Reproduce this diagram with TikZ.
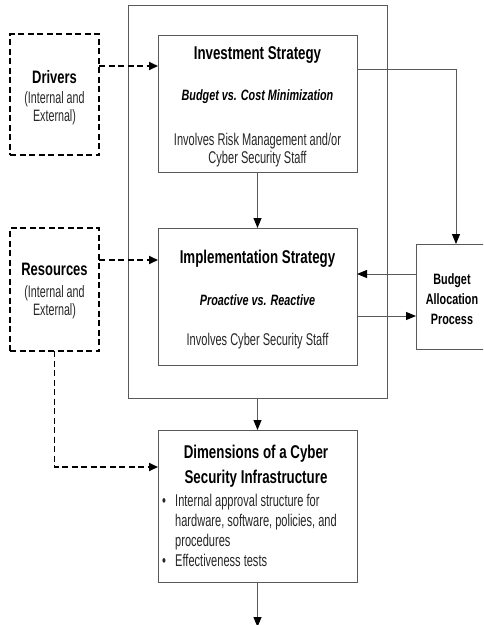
\documentclass[tikz,border=0pt]{standalone}
\usepackage{fontspec}
\setmainfont{Liberation Sans}[FakeStretch=0.65]
\newfontfamily\boldfam{Liberation Sans}[FakeStretch=0.72]
\usetikzlibrary{arrows.meta}
\newcommand{\mlines}[1]{\begin{tabular}[t]{@{}c@{}}#1\end{tabular}}
\begin{document}
\begin{tikzpicture}[x=1pt,y=-1pt,
  box/.style={draw=black!65, line width=1pt, inner sep=0pt, outer sep=0pt, anchor=north west},
  dbox/.style={draw=black, line width=1.8pt, dash pattern=on 6pt off 3.5pt, inner sep=0pt, outer sep=0pt, anchor=north west},
  arr/.style={draw=black!65, line width=1pt, -{Triangle[length=10pt,width=8pt,fill=black,color=black]}},
  darr/.style={draw=black, line width=1.8pt, dash pattern=on 6pt off 3.5pt, -{Triangle[length=9pt,width=8pt,fill=black]}},
  ttl/.style={font=\boldfam\fontsize{18.5}{25}\selectfont\bfseries, anchor=base, inner sep=0pt},
  sub/.style={font=\boldfam\fontsize{15}{18}\selectfont\bfseries\itshape, anchor=base, inner sep=0pt},
  body/.style={font=\fontsize{17}{18.3}\selectfont, text=black!85, anchor=base, inner sep=0pt},
  lbl/.style={font=\boldfam\fontsize{18}{21}\selectfont\bfseries, anchor=base, inner sep=0pt},
  small/.style={font=\fontsize{16.5}{18.5}\selectfont, text=black!85, anchor=base, inner sep=0pt},
  bud/.style={font=\boldfam\fontsize{15}{20}\selectfont\bfseries, anchor=base, inner sep=0pt}
]
\useasboundingbox (0,0) rectangle (483,625);
\clip (0,0) rectangle (483,625);
% boxes
\node[box, minimum width=259pt, minimum height=393pt] (outer) at (128,5) {};
\node[box, minimum width=199pt, minimum height=137pt] (inv) at (158,35) {};
\node[box, minimum width=199pt, minimum height=137pt] (impl) at (158,228) {};
\node[box, minimum width=199pt, minimum height=152pt] (dims) at (158,430) {};
\node[box, minimum width=80pt, minimum height=105pt] (budget) at (416,244) {};
\node[dbox, minimum width=89pt, minimum height=121pt] (drivers) at (10,34) {};
\node[dbox, minimum width=89pt, minimum height=123pt] (res) at (10,228) {};
% texts
\node[ttl] (invT) at (257.5,59) {Investment Strategy};
\node[sub] (invS) at (257.5,100) {Budget vs. Cost Minimization};
\node[body] (invB) at (257.5,145) {\mlines{Involves Risk Management and/or\\Cyber Security Staff}};
\node[ttl] (implT) at (257.5,263) {Implementation Strategy};
\node[sub] (implS) at (257.5,305) {Proactive vs. Reactive};
\node[body] (implB) at (257.5,345) {Involves Cyber Security Staff};
\node[ttl] (dimsT) at (256,458) {\mlines{Dimensions of a Cyber\\Security Infrastructure}};
\node[body, anchor=base west, font=\fontsize{17}{20}\selectfont] (dimsB) at (162,506)
  {\begin{tabular}[t]{@{}l@{}l@{}}\makebox[13pt][l]{\textbullet} & Internal approval structure for\\
  & hardware, software, policies, and\\
  & procedures\\
  \makebox[13pt][l]{\textbullet} & Effectiveness tests\end{tabular}};
\node[lbl] (drvT) at (54.5,83) {Drivers};
\node[small] (drvS) at (54.5,103) {\mlines{(Internal and\\External)}};
\node[lbl] (resT) at (54.5,275) {Resources};
\node[small] (resS) at (54.5,297) {\mlines{(Internal and\\External)}};
\node[bud] (budT) at (452,284) {\mlines{Budget\\Allocation\\Process}};
\coordinate (end) at (257.5,627);
% connectors
\draw[darr] (drivers.east |- 0,66) -- (inv.west |- 0,66);
\draw[darr] (res.east |- 0,260) -- (impl.west |- 0,260);
\draw[darr] (res.south) |- (dims.west |- 0,467);
\draw[arr] (inv.south) -- (impl.north);
\draw[arr] (inv.east |- 0,69) -| (budget.north);
\draw[arr] (budget.west |- 0,274) -- (impl.east |- 0,274);
\draw[arr] (impl.east |- 0,316) -- (budget.west |- 0,316);
\draw[arr] (outer.south -| dims.north) -- (dims.north);
\draw[arr] (dims.south) -- (end);
\end{tikzpicture}
\end{document}
